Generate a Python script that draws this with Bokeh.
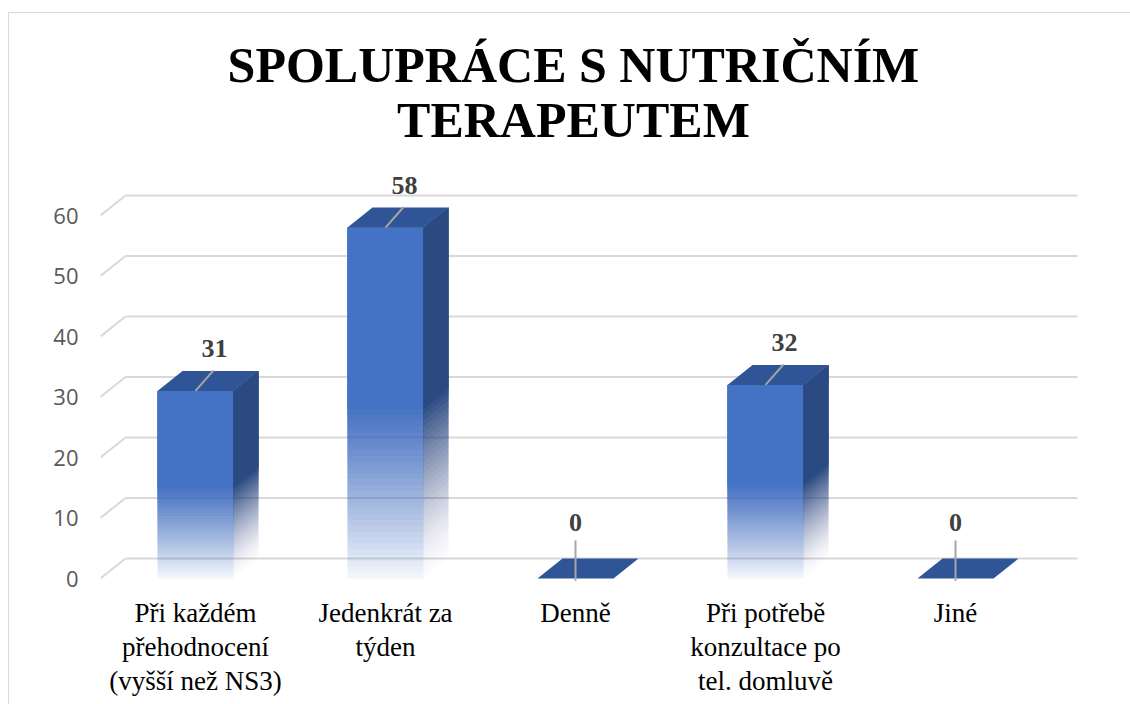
import numpy as np
from bokeh.plotting import figure
from bokeh.models import Range1d, FixedTicker
from bokeh.core.properties import value
from bokeh.embed import file_html
from bokeh.resources import INLINE

# ---------------- data ----------------
title_lines = ["SPOLUPRÁCE S NUTRIČNÍM", "TERAPEUTEM"]
categories = [
    "Při každém\npřehodnocení\n(vyšší než NS3)",
    "Jedenkrát za\ntýden",
    "Denně",
    "Při potřebě\nkonzultace po\ntel. domluvě",
    "Jiné",
]
values = [31, 58, 0, 32, 0]
y_ticks = [0, 10, 20, 30, 40, 50, 60]

# ---------------- geometry / style ----------------
PX = 6.05       # pixels per value unit
DX = 0.1316     # depth offset in category units
DY = 20 / PX    # depth offset in value units
HW = 0.2        # half bar width
X0, X1 = -0.5, 4.684
XR = 4.642
Y0, Y1 = -126 / PX, 578 / PX
TITLE_X = 1.989
TITLE_MID = [(578 - 64.5) / PX, (578 - 119) / PX]
LINE_STEP = 34 / PX

FRONT = "#4472C4"
TOP = "#2F5597"
SIDE = "#2B4A82"
GRID = "#d9d9d9"

p = figure(width=1130, height=704, x_range=Range1d(X0, X1), y_range=Range1d(Y0, Y1),
           output_backend="svg", toolbar_location=None, title=None,
           min_border_left=100, min_border_right=45, min_border_top=0, min_border_bottom=0)
p.outline_line_color = None
p.xgrid.visible = False
p.ygrid.visible = False
p.xaxis.visible = False
p.border_fill_color = None
p.background_fill_color = None
p.styles = {"background": "linear-gradient(#d9d9d9,#d9d9d9) 8px 12px / 1px 100% no-repeat, "
                          "linear-gradient(#d9d9d9,#d9d9d9) 8px 12px / 100% 1px no-repeat, white"}

# title
p.text(x=[TITLE_X, TITLE_X], y=TITLE_MID, text=title_lines, text_font=value("Liberation Serif"),
       text_font_style="bold", text_font_size="50px", text_color="#000000",
       text_align="center", text_baseline="middle")

# back wall gridlines + diagonal floor ticks
n = len(y_ticks)
p.segment(x0=[X0 + DX] * n, y0=[t + DY for t in y_ticks], x1=[XR] * n, y1=[t + DY for t in y_ticks],
          line_color=GRID, line_width=2)
p.segment(x0=[X0] * n, y0=y_ticks, x1=[X0 + DX] * n, y1=[t + DY for t in y_ticks],
          line_color=GRID, line_width=2)

# bars: layered translucent slabs give the fade towards the floor
N = 30
targets = [0.04 + 0.96 * (k / N) for k in range(1, N + 1)]
alphas = []
prev = 0.0
for A in targets:
    a = 1.0 if A >= 0.999 else 1 - (1 - A) / (1 - prev)
    alphas.append(a)
    prev = A
side_targets = [A ** 1.6 for A in targets]
side_alphas = []
prev = 0.0
for A in side_targets:
    a = 1.0 if A >= 0.999 else 1 - (1 - A) / (1 - prev)
    side_alphas.append(a)
    prev = A

fl, fr, ft, fb, fa = [], [], [], [], []
sx, sy, sa = [], [], []
tx, ty = [], []
for i, v in enumerate(values):
    tx.append([i - HW, i + HW, i + HW + DX, i - HW + DX])
    ty.append([v, v, v + DY, v + DY])
    if v <= 0:
        continue
    half = v * 0.5
    for k in range(N):
        b = half * k / N
        fl.append(i - HW); fr.append(i + HW); ft.append(v); fb.append(b); fa.append(alphas[k])
        sx.append([i + HW, i + HW + DX, i + HW + DX, i + HW])
        sy.append([b, b + DY, v + DY, v])
        sa.append(side_alphas[k])

p.quad(left=fl, right=fr, top=ft, bottom=fb, fill_color=FRONT, fill_alpha=fa, line_color=None)
p.patches(xs=sx, ys=sy, fill_color=SIDE, fill_alpha=sa, line_color=None)
p.patches(xs=tx, ys=ty, fill_color=TOP, line_color=None)

# leader lines and value labels
lx0, ly0, lx1, ly1, vx, vy = [], [], [], [], [], []
for i, v in enumerate(values):
    if v > 0:
        lx0.append(i); ly0.append(v); lx1.append(i + 0.095); ly1.append(v + 3.4)
        vx.append(i + 0.1); vy.append(v + 7.0)
    else:
        lx0.append(i); ly0.append(-0.4); lx1.append(i); ly1.append(6.3)
        vx.append(i); vy.append(9.3)
p.segment(x0=lx0, y0=ly0, x1=lx1, y1=ly1, line_color="#a6a6a6", line_width=2)
p.text(x=vx, y=vy, text=[str(v) for v in values], text_font=value("Liberation Serif"),
       text_font_style="bold", text_font_size="26px", text_color="#404040",
       text_align="center", text_baseline="middle")

# category labels, one text line at a time
cx, cy, ct = [], [], []
for i, c in enumerate(categories):
    for li, part in enumerate(c.split("\n")):
        cx.append(i); cy.append(-LINE_STEP * (li + 1)); ct.append(part)
p.text(x=cx, y=cy, text=ct, text_font=value("Liberation Serif"), text_font_size="27px",
       text_color="#000000", text_align="center", text_baseline="middle")

# y axis
p.yaxis.ticker = FixedTicker(ticks=y_ticks)
p.yaxis.axis_line_color = None
p.yaxis.major_tick_line_color = None
p.yaxis.minor_tick_line_color = None
p.yaxis.major_tick_out = 0
p.yaxis.major_tick_in = 0
p.yaxis.major_label_text_font = "Open Sans"
p.yaxis.major_label_text_font_size = "22px"
p.yaxis.major_label_text_color = "#595959"
p.yaxis.major_label_standoff = 22

open("out.html", "w").write(file_html(p, INLINE))
